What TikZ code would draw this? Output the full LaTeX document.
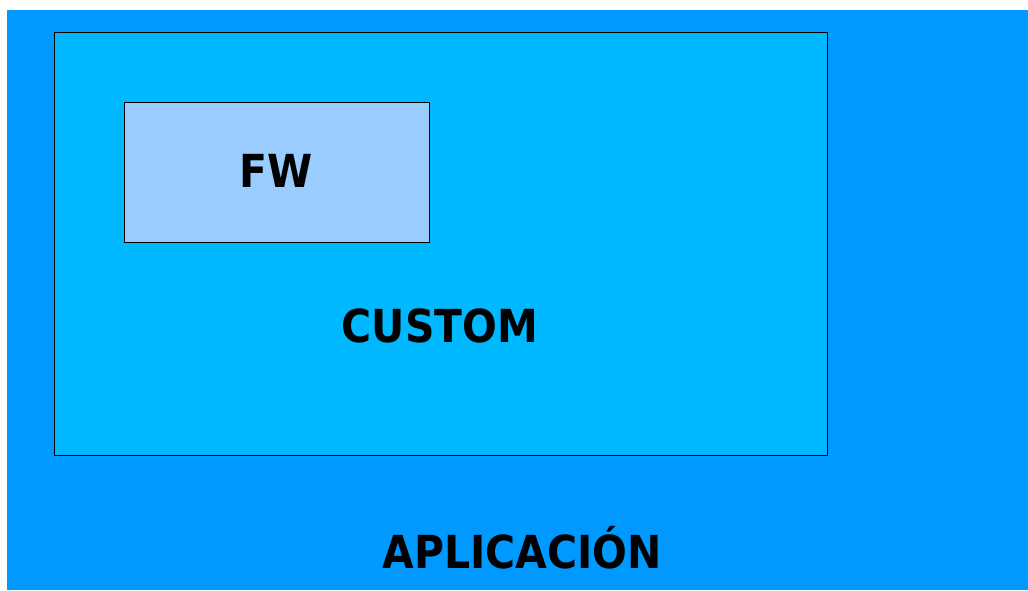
\documentclass[tikz,border=0pt]{standalone}
\usepackage{fontspec}
\setmainfont{DejaVu Sans Condensed}
\usepackage{tikz}
\definecolor{appblue}{RGB}{0,153,255}
\definecolor{customblue}{RGB}{0,184,255}
\definecolor{fwblue}{RGB}{153,204,255}
\tikzstyle{layer} = [rectangle, inner sep=0pt, anchor=south west]
\tikzstyle{edge} = [draw=black, line width=1.2pt]
\tikzstyle{lbl} = [inner sep=0pt, anchor=base, font={\fontsize{45.5}{50}\selectfont\bfseries}]

\begin{document}
\begin{tikzpicture}[x=1pt,y=1pt]
  \useasboundingbox (0,0) rectangle (1028,590);
  \node[layer,fill=appblue,minimum width=1021pt,minimum height=580pt](app) at (7,0){};
  \node[layer,edge,fill=customblue,minimum width=773pt,minimum height=423pt](custom) at (54,134){};
  \node[layer,edge,fill=fwblue,minimum width=305pt,minimum height=140pt](fw) at (124,347){};
  \node[lbl](fwtxt) at (276.5,402){FW};
  \node[lbl](customtxt) at (440,248){CUSTOM};
  \node[lbl](apptxt) at (522,22){APLICACIÓN};
\end{tikzpicture}
\end{document}
